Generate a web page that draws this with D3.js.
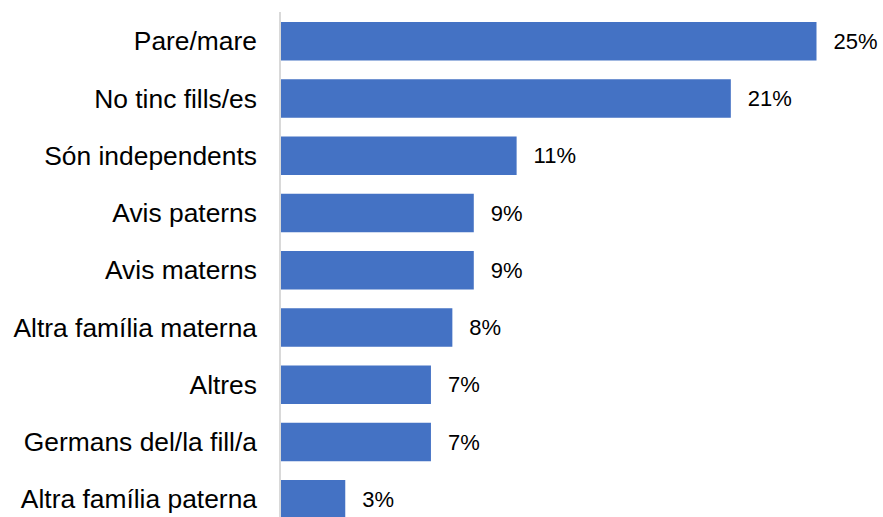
<!DOCTYPE html>
<html>
<head>
<meta charset="utf-8">
<script src="https://cdn.jsdelivr.net/npm/d3@7"></script>
<style>
  html, body { margin: 0; padding: 0; background: #fff; }
  svg { display: block; }
  text { font-family: "Liberation Sans", Arial, sans-serif; fill: #000; }
</style>
</head>
<body>
<script>
const categories = [
  "Pare/mare",
  "No tinc fills/es",
  "Són independents",
  "Avis paterns",
  "Avis materns",
  "Altra família materna",
  "Altres",
  "Germans del/la fill/a",
  "Altra família paterna"
];
const values = [25, 21, 11, 9, 9, 8, 7, 7, 3];
const valueLabels = ["25%", "21%", "11%", "9%", "9%", "8%", "7%", "7%", "3%"];

const W = 883, H = 517;
const svg = d3.select("body").append("svg").attr("width", W).attr("height", H);

const x = d3.scaleLinear().domain([0, 25]).range([281, 816.5]);
const y = d3.scaleBand().domain(categories).range([22, 518.5]).paddingInner(0.3275).paddingOuter(0);

const data = categories.map((c, i) => ({ c, v: values[i], l: valueLabels[i] }));

svg.selectAll("rect.bar").data(data).enter().append("rect")
  .attr("class", "bar")
  .attr("x", x(0))
  .attr("y", d => y(d.c))
  .attr("width", d => x(d.v) - x(0))
  .attr("height", y.bandwidth())
  .attr("fill", "#4472C4");

// axis line
svg.append("line")
  .attr("x1", 280).attr("x2", 280)
  .attr("y1", 12).attr("y2", H)
  .attr("stroke", "#d9d9d9").attr("stroke-width", 2);

// category labels
svg.selectAll("text.cat").data(data).enter().append("text")
  .attr("class", "cat")
  .attr("x", 257)
  .attr("y", d => y(d.c) + y.bandwidth() / 2)
  .attr("dy", "0.35em")
  .attr("text-anchor", "end")
  .style("font-size", "26.4px")
  .text(d => d.c);

// value labels
svg.selectAll("text.val").data(data).enter().append("text")
  .attr("class", "val")
  .attr("x", d => x(d.v) + 17)
  .attr("y", d => y(d.c) + y.bandwidth() / 2)
  .attr("dy", "0.35em")
  .style("font-size", "22px")
  .text(d => d.l);
</script>
</body>
</html>
